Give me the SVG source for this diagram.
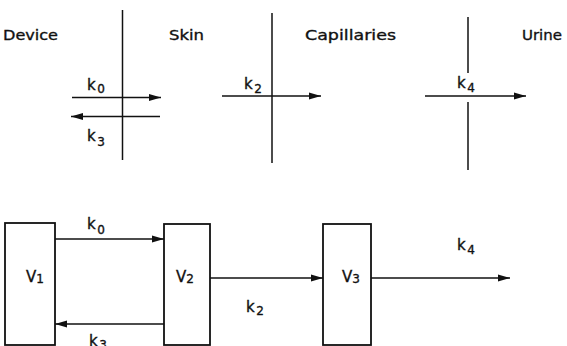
<svg xmlns="http://www.w3.org/2000/svg" width="567" height="346" viewBox="0 0 567 346">
<style>
text{font-family:"DejaVu Sans","Liberation Sans",sans-serif;fill:#111;stroke:#111;stroke-width:0.35}
.h{font-size:14.5px}
.k{font-size:15px}
.s{font-size:12px}
.ln{stroke:#111;stroke-width:1.5;fill:none}
.bx{stroke:#111;stroke-width:1.8;fill:none}
</style>
<defs>
<marker id="ah" markerUnits="userSpaceOnUse" markerWidth="13" markerHeight="8" refX="12" refY="4" orient="auto">
<path d="M0,0.6 L12,4 L0,7.4 Z" fill="#111"/>
</marker>
</defs>
<g id="headers">
<text class="h" x="3" y="40" textLength="55" lengthAdjust="spacingAndGlyphs">Device</text>
<text class="h" x="169" y="40" textLength="35" lengthAdjust="spacingAndGlyphs">Skin</text>
<text class="h" x="305" y="40" textLength="91" lengthAdjust="spacingAndGlyphs">Capillaries</text>
<text class="h" x="522" y="40" textLength="40" lengthAdjust="spacingAndGlyphs">Urine</text>
</g>
<g id="barriers">
<line class="ln" x1="122.5" y1="10" x2="122.5" y2="160"/>
<line class="ln" x1="272" y1="13" x2="272" y2="163"/>
<line class="ln" x1="468" y1="17" x2="468" y2="73"/>
<line class="ln" x1="468" y1="102" x2="468" y2="170"/>
</g>
<g id="box-v1">
<rect class="bx" x="5" y="223" width="50" height="122"/>
<text class="k" x="26" y="282">V<tspan class="s" dy="1">1</tspan></text>
</g>
<g id="box-v2">
<rect class="bx" x="164" y="224" width="46" height="121"/>
<text class="k" x="176" y="282">V<tspan class="s" dy="1">2</tspan></text>
</g>
<g id="box-v3">
<rect class="bx" x="323" y="224" width="48" height="121"/>
<text class="k" x="342" y="282">V<tspan class="s" dy="1">3</tspan></text>
</g>
<g id="connectors">
<line class="ln" x1="72" y1="97.5" x2="161" y2="97.5" marker-end="url(#ah)"/>
<line class="ln" x1="160" y1="116.5" x2="71" y2="116.5" marker-end="url(#ah)"/>
<line class="ln" x1="222" y1="96" x2="321" y2="96" marker-end="url(#ah)"/>
<line class="ln" x1="425" y1="96" x2="526" y2="96" marker-end="url(#ah)"/>
<line class="ln" x1="55" y1="239" x2="164" y2="239" marker-end="url(#ah)"/>
<line class="ln" x1="164" y1="324" x2="55" y2="324" marker-end="url(#ah)"/>
<line class="ln" x1="210" y1="278" x2="323" y2="278" marker-end="url(#ah)"/>
<line class="ln" x1="371" y1="278" x2="510" y2="278" marker-end="url(#ah)"/>
</g>
<g id="labels">
<text class="k" x="87" y="90">k<tspan class="s" dx="1.5" dy="3">0</tspan></text>
<text class="k" x="87" y="141">k<tspan class="s" dx="1.5" dy="5">3</tspan></text>
<text class="k" x="244" y="89">k<tspan class="s" dx="1.5" dy="4">2</tspan></text>
<text class="k" x="457" y="88">k<tspan class="s" dx="1.5" dy="4">4</tspan></text>
<text class="k" x="87" y="229">k<tspan class="s" dx="1.5" dy="5">0</tspan></text>
<text class="k" x="246" y="312">k<tspan class="s" dx="1.5" dy="3">2</tspan></text>
<text class="k" x="457" y="250">k<tspan class="s" dx="1.5" dy="4">4</tspan></text>
<text class="k" x="89" y="346">k<tspan class="s" dx="1.5" dy="3">3</tspan></text>
</g>
</svg>
